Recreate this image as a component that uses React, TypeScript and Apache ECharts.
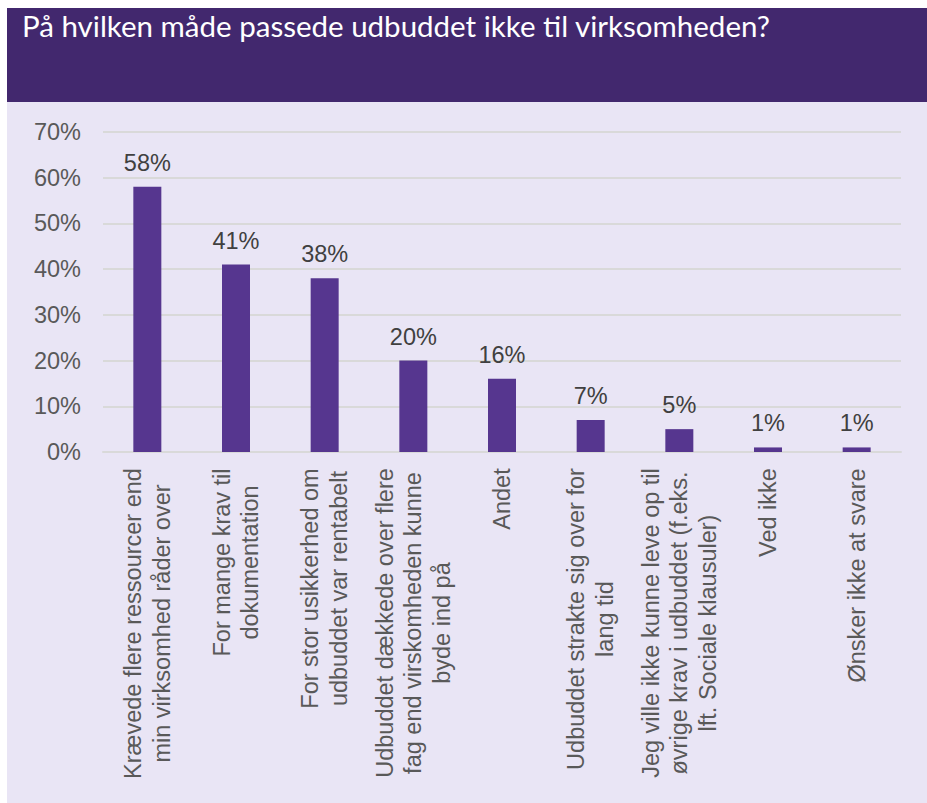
import React, { useEffect, useRef } from "react";
import * as echarts from "echarts";

const title = "På hvilken måde passede udbuddet ikke til virksomheden?";

const categories: string[] = [
  "Krævede flere ressourcer end\nmin virksomhed råder over",
  "For mange krav til\ndokumentation",
  "For stor usikkerhed om\nudbuddet var rentabelt",
  "Udbuddet dækkede over flere\nfag end virskomheden kunne\nbyde ind på",
  "Andet",
  "Udbuddet strakte sig over for\nlang tid",
  "Jeg ville ikke kunne leve op til\nøvrige krav i udbuddet (f.eks.\nlft. Sociale klausuler)",
  "Ved ikke",
  "Ønsker ikke at svare",
];

const values: number[] = [58, 41, 38, 20, 16, 7, 5, 1, 1];

const yMin = 0;
const yMax = 70;
const yInterval = 10;

const LABEL_FONT = 23.5;
const FONT_FAMILY = '"Liberation Sans", Arial, sans-serif';

function measure(text: string): number {
  const c = document.createElement("canvas");
  const ctx = c.getContext("2d");
  if (!ctx) return text.length * LABEL_FONT * 0.5;
  ctx.font = `${LABEL_FONT}px "Liberation Sans"`;
  return ctx.measureText(text).width;
}

export default function App() {
  const ref = useRef<HTMLDivElement>(null);

  useEffect(() => {
    if (!ref.current) return;
    const chart = echarts.init(ref.current, null, { renderer: "svg" });

    const rich: Record<string, any> = {};
    categories.forEach((cat, i) => {
      const w = Math.max(...cat.split("\n").map(measure));
      rich["c" + i] = {
        width: Math.ceil(w) + 2,
        align: "center",
        fontSize: LABEL_FONT,
        lineHeight: 28.5,
        color: "#595959",
        fontFamily: FONT_FAMILY,
      };
    });

    chart.setOption({
      animation: false,
      graphic: [
        {
          type: "rect",
          left: 7,
          top: 8,
          shape: { width: 920, height: 795 },
          style: { fill: "#E9E5F5" },
          z: -10,
          silent: true,
        },
        {
          type: "rect",
          left: 7,
          top: 8,
          shape: { width: 920, height: 94 },
          style: { fill: "#42286E" },
          z: -9,
          silent: true,
        },
        {
          type: "text",
          left: 22,
          top: 10,
          style: {
            text: title,
            fill: "#FFFFFF",
            font: '29.5px Lato, "Open Sans", sans-serif',
          },
        },
      ],
      grid: { left: 103, right: 26, top: 132, bottom: 351, containLabel: false },
      xAxis: {
        type: "category",
        data: categories,
        axisTick: { show: false },
        axisLine: { show: true, lineStyle: { color: "#D9D9D9", width: 2 } },
        axisLabel: {
          interval: 0,
          rotate: 90,
          margin: 15,
          formatter: (val: string) => {
            const i = categories.indexOf(val);
            return val
              .split("\n")
              .map((l) => `{c${i}|${l}}`)
              .join("\n");
          },
          rich,
        },
      },
      yAxis: {
        type: "value",
        min: yMin,
        max: yMax,
        interval: yInterval,
        axisLine: { show: false },
        axisTick: { show: false },
        splitLine: { lineStyle: { color: "#D9D9D9", width: 2 } },
        axisLabel: {
          formatter: (v: number) => `${v}%`,
          color: "#595959",
          fontSize: LABEL_FONT,
          fontFamily: FONT_FAMILY,
          margin: 22,
        },
      },
      series: [
        {
          type: "bar",
          data: values,
          barWidth: 28,
          itemStyle: { color: "#56368F" },
          label: {
            show: true,
            position: "top",
            distance: 12,
            formatter: (p: any) => `${p.value}%`,
            color: "#404040",
            fontSize: LABEL_FONT,
            fontFamily: FONT_FAMILY,
          },
        },
      ],
    });

    return () => chart.dispose();
  }, []);

  return (
    <div
      ref={ref}
      style={{ position: "absolute", left: 0, top: 0, width: 927, height: 803 }}
    />
  );
}
